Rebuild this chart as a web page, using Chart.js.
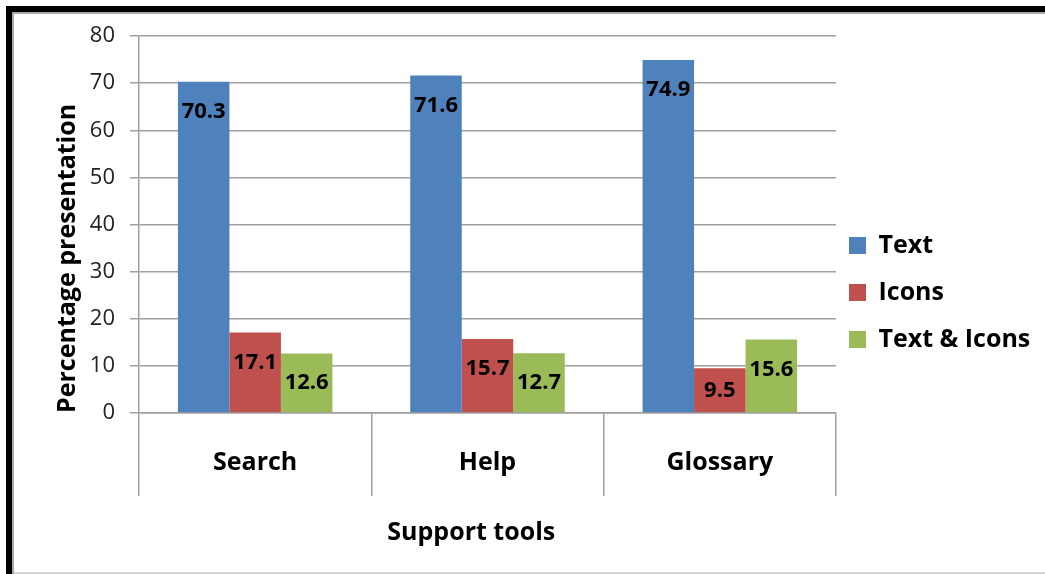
<!DOCTYPE html>
<html>
<head>
<meta charset="utf-8">
<script src="https://cdn.jsdelivr.net/npm/chart.js@4/dist/chart.umd.min.js"></script>
<style>
  html, body { margin: 0; padding: 0; background: #fff; }
  #wrap { position: relative; width: 1045px; height: 574px; overflow: hidden; }
  #c { position: absolute; left: 0; top: 0; }
  .b { position: absolute; pointer-events: none; }
</style>
</head>
<body>
<div id="wrap">
  <canvas id="c" width="1045" height="574"></canvas>
  <div class="b" style="left:6px;top:6px;width:1039px;height:6px;background:#000"></div>
  <div class="b" style="left:6px;top:6px;width:6px;height:568px;background:#000"></div>
  <div class="b" style="left:12px;top:12px;width:1033px;height:2px;background:#a9a9a9"></div>
  <div class="b" style="left:12px;top:12px;width:2px;height:562px;background:#a9a9a9"></div>
  <div class="b" style="left:14px;top:572px;width:1031px;height:2px;background:#d4d4d4"></div>
</div>
<script>
const categories = ['Search', 'Help', 'Glossary'];
const seriesNames = ['Text', 'Icons', 'Text & Icons'];
const textValues = [70.3, 71.6, 74.9];
const iconsValues = [17.1, 15.7, 9.5];
const textIconsValues = [12.6, 12.7, 15.6];
const yTicks = [0, 10, 20, 30, 40, 50, 60, 70, 80];
const seriesColors = ['#4F81BD', '#C0504D', '#9BBB59'];

const FONT = '"Open Sans", Lato, sans-serif';

const valueLabels = {
  id: 'valueLabels',
  afterDatasetsDraw(chart) {
    const ctx = chart.ctx;
    ctx.save();
    ctx.font = 'bold 22px ' + FONT;
    ctx.fillStyle = '#000';
    ctx.textAlign = 'center';
    ctx.textBaseline = 'middle';
    chart.data.datasets.forEach((ds, di) => {
      const meta = chart.getDatasetMeta(di);
      meta.data.forEach((bar, i) => {
        const top = bar.y, base = bar.base;
        const y = Math.min(top + 30, (top + base) / 2);
        ctx.fillText(ds.data[i].toFixed(1), bar.x, y);
      });
    });
    ctx.restore();
  }
};

const legendPlace = {
  id: 'legendPlace',
  afterLayout(chart) {
    const lg = chart.legend;
    if (!lg) return;
    lg.left = 827;
    lg.top = 211;
  }
};

new Chart(document.getElementById('c'), {
  type: 'bar',
  data: {
    labels: categories,
    datasets: [
      { label: seriesNames[0], data: textValues, backgroundColor: seriesColors[0] },
      { label: seriesNames[1], data: iconsValues, backgroundColor: seriesColors[1] },
      { label: seriesNames[2], data: textIconsValues, backgroundColor: seriesColors[2] }
    ]
  },
  options: {
    responsive: false,
    animation: false,
    devicePixelRatio: 1,
    layout: { padding: { top: 36, left: 0, right: 0, bottom: 0 } },
    datasets: { bar: { categoryPercentage: 0.665, barPercentage: 1.0 } },
    plugins: {
      legend: {
        position: 'right',
        align: 'start',
        maxWidth: 209,
        labels: {
          boxWidth: 17, boxHeight: 17, padding: 22, color: '#000',
          font: { family: FONT, size: 25, weight: 'bold' }
        }
      },
      tooltip: { enabled: false }
    },
    scales: {
      x: {
        grid: { display: true, drawOnChartArea: false, drawTicks: true, tickLength: 83, color: '#a0a0a0', lineWidth: 1.5, offset: true },
        border: { display: true, color: '#a0a0a0', width: 1.5 },
        ticks: { color: '#000', padding: -48, font: { family: FONT, size: 25, weight: 'bold' } },
        title: {
          display: true, text: 'Support tools\u00a0\u00a0\u00a0\u00a0\u00a0', color: '#000',
          font: { family: FONT, size: 25, weight: 'bold' }, padding: { top: 0, bottom: 26 }
        },
        afterFit(scale) { scale.height = 161; }
      },
      y: {
        min: 0, max: 80,
        afterBuildTicks(scale) { scale.ticks = yTicks.map(v => ({ value: v })); },
        grid: { color: '#a0a0a0', lineWidth: 1.5, tickLength: 9 },
        border: { display: true, color: '#a0a0a0', width: 1.5 },
        ticks: { color: '#222', padding: 15, font: { family: FONT, size: 22 } },
        title: {
          display: true, text: 'Percentage presentation', align: 'start', color: '#000',
          font: { family: FONT, size: 25, weight: 'bold' }, padding: { top: 53, bottom: 0 }
        },
        afterFit(scale) { scale.width = 139; }
      }
    }
  },
  plugins: [valueLabels, legendPlace]
});
</script>
</body>
</html>
